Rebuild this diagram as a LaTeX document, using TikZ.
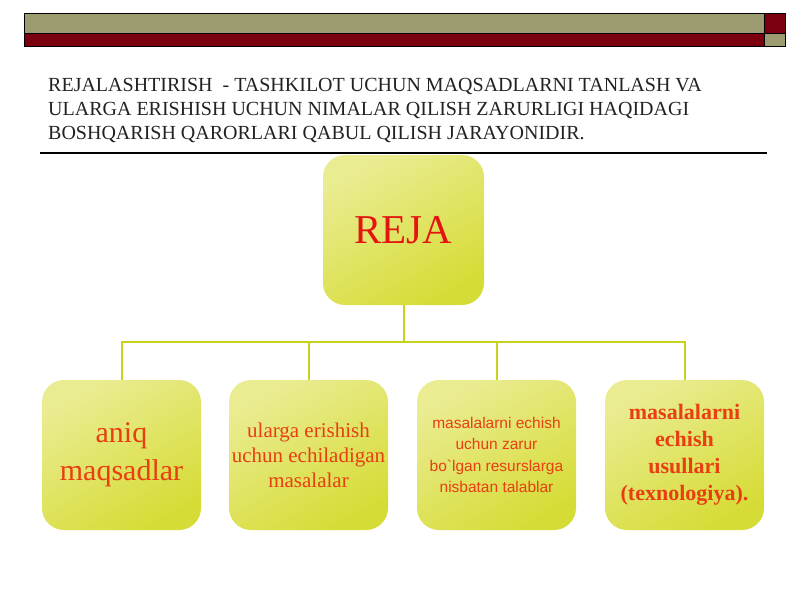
\documentclass[tikz,border=0pt]{standalone}
\usepackage{fontspec}
\setmainfont{Liberation Serif}
\newfontfamily\boxsans{Liberation Sans}
\usetikzlibrary{positioning}

\definecolor{barolive}{RGB}{156,156,112}
\definecolor{barred}{RGB}{122,0,16}
\definecolor{boxlight}{RGB}{234,236,146}
\definecolor{boxdark}{RGB}{214,220,54}
\definecolor{linkgreen}{RGB}{198,210,30}
\definecolor{textred}{RGB}{228,20,14}
\definecolor{textorange}{RGB}{232,62,18}
\definecolor{titlegray}{RGB}{34,34,34}

\begin{document}
\begin{tikzpicture}[x=1pt,y=-1pt,
    plan/.style={rectangle,rounded corners=22pt,minimum width=159pt,minimum height=150pt,
        inner sep=2pt,align=center,text=textorange,
        top color=boxlight,bottom color=boxdark,shading angle=30},
    link/.style={draw=linkgreen,line width=2pt}]
    \tikzstyle{every node}=[font=\fontsize{20}{24}\selectfont]
    \useasboundingbox (0,0) rectangle (800,600);

    % header bar
    \draw[fill=barolive,line width=0.6pt] (24,13) rectangle (764,33);
    \draw[fill=barred,line width=0.6pt] (24,33) rectangle (764,46);
    \draw[fill=barred,line width=0.6pt] (764,13) rectangle (785,33);
    \draw[fill=barolive,line width=0.6pt] (764,33) rectangle (785,46);

    \node[anchor=north west,inner sep=0pt,align=left,text=titlegray] (title) at (48,78)
    {REJALASHTIRISH\ \ - TASHKILOT UCHUN MAQSADLARNI TANLASH VA\\
     ULARGA ERISHISH UCHUN NIMALAR QILISH ZARURLIGI HAQIDAGI\\
     BOSHQARISH QARORLARI QABUL QILISH JARAYONIDIR.};
    \draw[line width=1.2pt] (40,153) -- (767,153);

    \node[plan,minimum width=161pt,text=textred,font=\fontsize{41}{44}\selectfont] (reja) at (403.5,230) {REJA};

    \node[plan,font=\fontsize{30}{38}\selectfont] (aim) at (121.5,455) {aniq\\maqsadlar};
    \node[plan,font=\fontsize{21}{25}\selectfont] (task) at (308.5,455)
    {ularga erishish\\uchun echiladigan\\masalalar};
    \node[plan,font=\boxsans\fontsize{15.5}{21.5}\selectfont] (need) at (496.5,455)
    {masalalarni echish\\uchun zarur\\bo`lgan resurslarga\\nisbatan talablar};
    \node[plan,font=\bfseries\fontsize{22}{27}\selectfont] (tech) at (684.5,455)
    {masalalarni\\echish\\usullari\\(texnologiya).};

    \coordinate (hub) at (403.5,342);
    \draw[link] (reja.south) -- (hub);
    \draw[link] (hub) -| (aim.north);
    \draw[link] (hub) -| (tech.north);
    \draw[link] (task.north |- hub) -- (task.north);
    \draw[link] (need.north |- hub) -- (need.north);
\end{tikzpicture}
\end{document}
